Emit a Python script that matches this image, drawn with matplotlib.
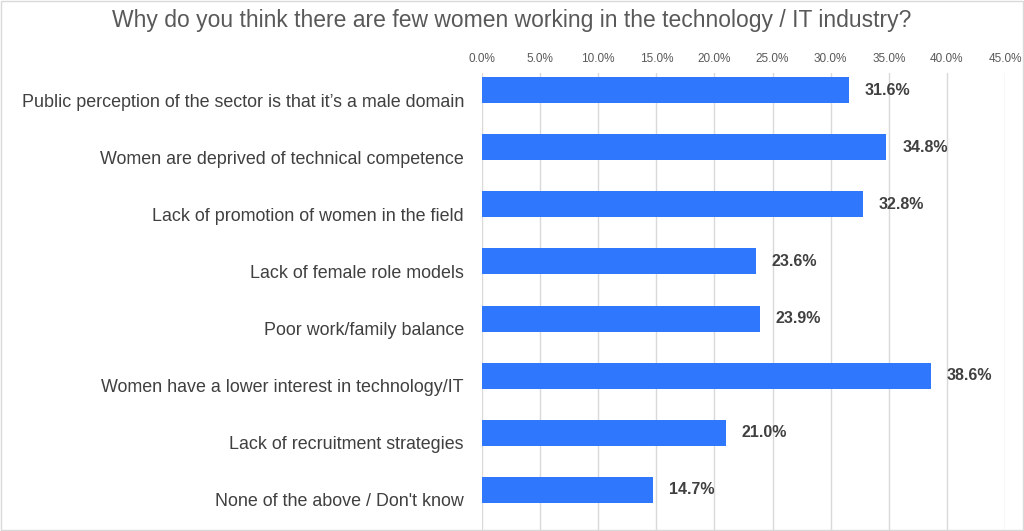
import matplotlib
matplotlib.use('Agg')
import matplotlib.pyplot as plt
from matplotlib.ticker import FuncFormatter
from matplotlib.transforms import ScaledTranslation

plt.rcParams['font.family'] = ['Liberation Sans', 'DejaVu Sans']

# 数据
categories = [
    "Public perception of the sector is that it\u2019s a male domain",
    "Women are deprived of technical competence",
    "Lack of promotion of women in the field",
    "Lack of female role models",
    "Poor work/family balance",
    "Women have a lower interest in technology/IT",
    "Lack of recruitment strategies",
    "None of the above / Don't know",
]
values = [31.6, 34.8, 32.8, 23.6, 23.9, 38.6, 21.0, 14.7]

fig = plt.figure(figsize=(10.24, 5.31), dpi=100)
ax = fig.add_axes([0.4707, 0.002, 0.5107, 0.8606])

y = list(range(len(categories)))
ax.barh(y, values, height=0.455, color='#2f77fd', zorder=3)
for yi, v in zip(y, values):
    ax.text(v + 1.35, yi, f'{v:.1f}%', va='center', ha='left',
            fontsize=11.5, fontweight='bold', color='#404040')

ax.set_xlim(0, 45)
ax.set_ylim(7.7, -0.3)
ax.set_xticks([i * 5 for i in range(10)])
ax.xaxis.set_major_formatter(FuncFormatter(lambda x, p: f'{x:.1f}%'))
ax.xaxis.tick_top()
ax.tick_params(axis='x', length=0, labelsize=8.5, labelcolor='#595959', pad=6)
ax.set_yticks(y)
ax.set_yticklabels(categories, fontsize=12.9, color='#404040')
ax.tick_params(axis='y', length=0, pad=13)
# 类别标签比柱子中心略低
offset = ScaledTranslation(0, -0.1, fig.dpi_scale_trans)
for lab in ax.get_yticklabels():
    lab.set_transform(lab.get_transform() + offset)
ax.grid(axis='x', color='#d9d9d9', linewidth=1, zorder=0)
for s in ax.spines.values():
    s.set_visible(False)

fig.text(0.5, 0.962, 'Why do you think there are few women working in the technology / IT industry?',
         ha='center', va='center', fontsize=16.5, color='#595959')

# 外边框
fig.patches.append(plt.Rectangle((0.001, 0.001), 0.998, 0.998, transform=fig.transFigure,
                                 fill=False, edgecolor='#d9d9d9', linewidth=1))

fig.savefig('out.png', dpi=100)
